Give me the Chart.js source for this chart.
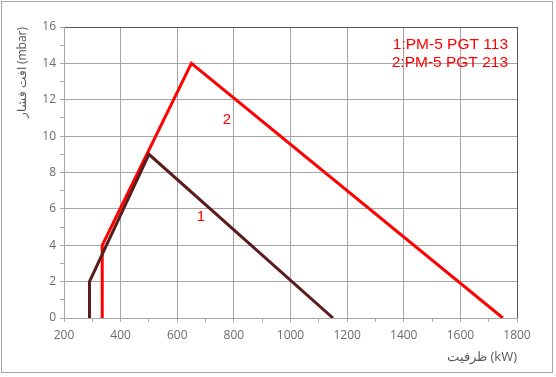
<!DOCTYPE html>
<html>
<head>
<meta charset="utf-8">
<script src="https://cdn.jsdelivr.net/npm/chart.js@4.4.0/dist/chart.umd.min.js"></script>
<style>
  body { margin: 0; background: #fff; }
  #wrap { position: relative; width: 556px; height: 377px; }
</style>
</head>
<body>
<div id="wrap"><canvas id="chart" width="556" height="377"></canvas></div>
<script>
// Curve 1: PM-5 PGT 113
const kw1 = [290, 290, 500, 1150];
const mbar1 = [0, 2, 9, 0];
// Curve 2: PM-5 PGT 213
const kw2 = [335, 335, 650, 1750];
const mbar2 = [0, 4, 14, 0];

const legendLines = ['1:PM-5 PGT 113', '2:PM-5 PGT 213'];
const curveTags = ['1', '2'];
const tagKw = [684, 775];
const tagMbar = [5.55, 10.9];

const toPoints = (xs, ys) => xs.map((x, i) => ({ x: x, y: ys[i] }));

const gridGrey = '#a6a6a6';
const borderDark = '#595959';

// draws the outer frame, curve tags and the legend text
const extras = {
    id: 'extras',
    afterDraw(chart) {
        const c = chart.ctx;
        const xs = chart.scales.x, ys = chart.scales.y;
        c.save();
        c.strokeStyle = '#a6a6a6';
        c.lineWidth = 1;
        c.strokeRect(1.5, 1.5, 551, 371);

        c.fillStyle = '#ff0000';
        c.textBaseline = 'middle';
        c.textAlign = 'center';
        c.font = '15px "Liberation Sans", Arial, sans-serif';
        curveTags.forEach((t, i) => {
            c.fillText(t, xs.getPixelForValue(tagKw[i]), ys.getPixelForValue(tagMbar[i]));
        });
        c.textAlign = 'right';
        c.font = '15.5px "Liberation Sans", Arial, sans-serif';
        legendLines.forEach((t, i) => {
            c.fillText(t, 508, 45 + i * 18);
        });
        c.restore();
    }
};

const ctx = document.getElementById('chart').getContext('2d');
const chart = new Chart(ctx, {
    type: 'scatter',
    data: {
        datasets: [
            {
                data: toPoints(kw1, mbar1),
                showLine: true,
                borderColor: '#5a1c1c',
                borderWidth: 3,
                pointRadius: 0,
                tension: 0
            },
            {
                data: toPoints(kw2, mbar2),
                showLine: true,
                borderColor: '#ff0000',
                borderWidth: 3,
                pointRadius: 0,
                tension: 0
            }
        ]
    },
    options: {
        responsive: false,
        animation: false,
        layout: { padding: { left: 0, right: 39, top: 27, bottom: 0 } },
        scales: {
            x: {
                type: 'linear',
                min: 200,
                max: 1800,
                afterFit(scale) { scale.height = 59; },
                ticks: {
                    stepSize: 100,
                    autoSkip: false,
                    maxRotation: 0,
                    color: '#6b6b6b',
                    font: { family: '"Open Sans", sans-serif', size: 12 },
                    padding: 6,
                    callback: v => (v % 200 === 0 ? v : '')
                },
                grid: {
                    color: c => {
                        const v = c.tick ? c.tick.value : 0;
                        if (v === 1800) return borderDark;
                        return v % 200 === 0 ? gridGrey : 'rgba(0,0,0,0)';
                    },
                    tickColor: gridGrey,
                    tickLength: 4
                },
                border: { color: gridGrey },
                title: {
                    display: true,
                    text: 'ظرفیت (kW)',
                    align: 'end',
                    color: '#595959',
                    font: { family: '"Open Sans", sans-serif', size: 13 },
                    padding: { top: 0, bottom: 12 }
                }
            },
            y: {
                min: 0,
                max: 16,
                afterFit(scale) { scale.width = 64; },
                ticks: {
                    stepSize: 1,
                    autoSkip: false,
                    color: '#6b6b6b',
                    font: { family: '"Open Sans", sans-serif', size: 12 },
                    padding: 4,
                    callback: v => (v % 2 === 0 ? v : '')
                },
                grid: {
                    color: c => {
                        const v = c.tick ? c.tick.value : 0;
                        if (v === 16) return borderDark;
                        return v % 2 === 0 ? gridGrey : 'rgba(0,0,0,0)';
                    },
                    tickColor: gridGrey,
                    tickLength: 4
                },
                border: { color: gridGrey },
                title: {
                    display: true,
                    text: 'افت فشار (mbar)',
                    align: 'end',
                    color: '#595959',
                    font: { family: '"Open Sans", sans-serif', size: 12 },
                    padding: { top: 15, bottom: 0 }
                }
            }
        },
        plugins: {
            legend: { display: false },
            tooltip: { enabled: false }
        }
    },
    plugins: [extras]
});
</script>
</body>
</html>
